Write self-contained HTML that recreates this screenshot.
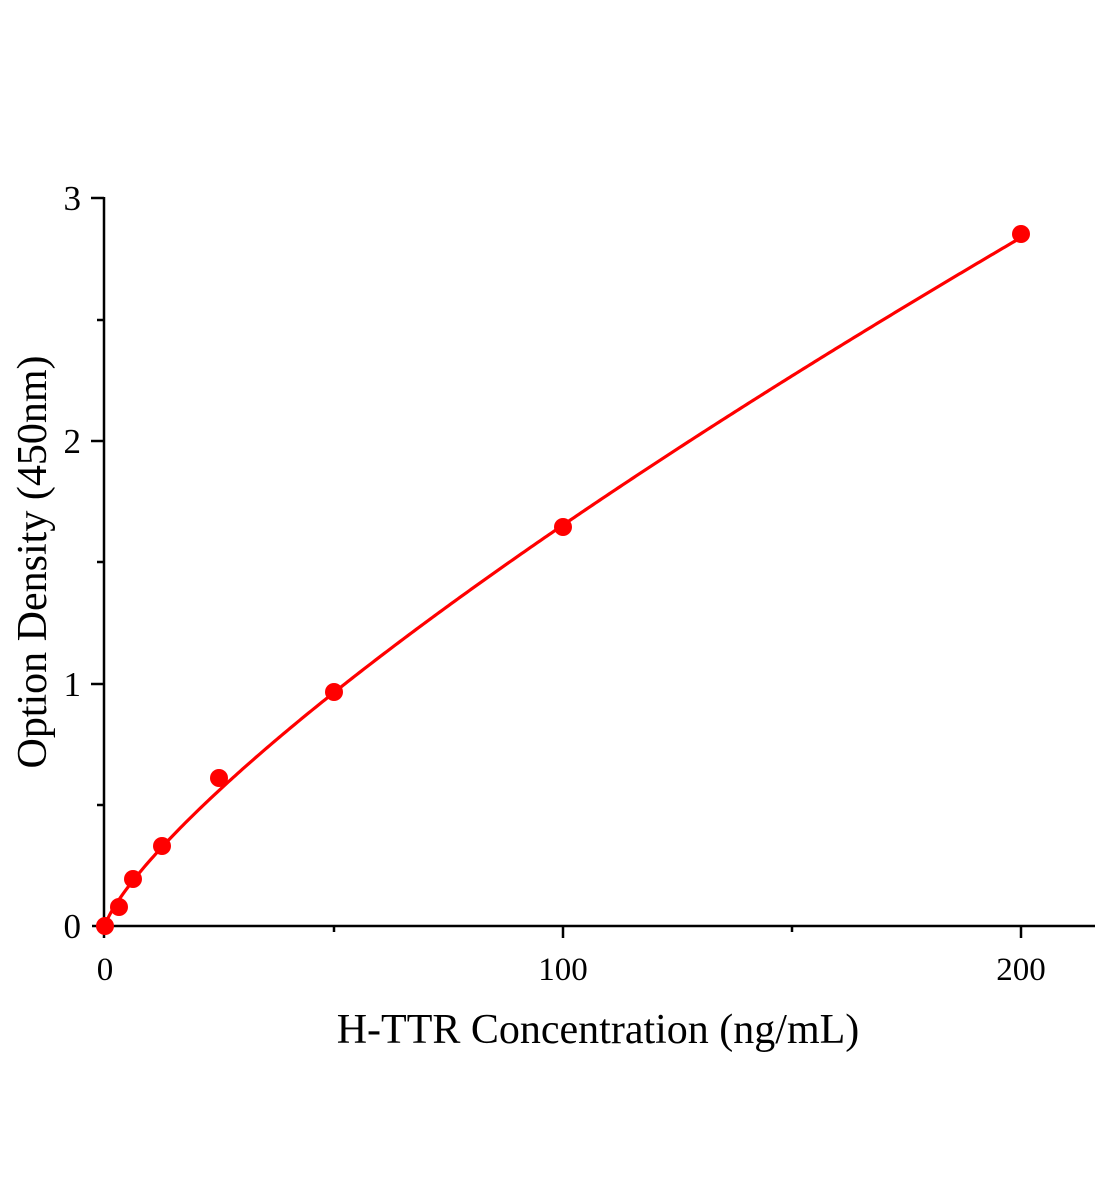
<!DOCTYPE html>
<html><head><meta charset="utf-8"><style>
html,body{margin:0;padding:0;background:#fff;}
svg{display:block;}
text{font-family:"Liberation Serif",serif;fill:#000;}
</style></head><body>
<svg id="s" width="1104" height="1200" viewBox="0 0 1104 1200" xmlns="http://www.w3.org/2000/svg">
<g stroke="#000" stroke-width="2.5" fill="none">
<line x1="104" y1="197" x2="104" y2="938"/>
<line x1="92" y1="926" x2="1095" y2="926"/>
<line x1="91" y1="198" x2="104" y2="198"/>
<line x1="91" y1="441" x2="104" y2="441"/>
<line x1="91" y1="684" x2="104" y2="684"/>
<line x1="97" y1="320" x2="104" y2="320"/>
<line x1="97" y1="562" x2="104" y2="562"/>
<line x1="97" y1="805" x2="104" y2="805"/>
<line x1="563" y1="926" x2="563" y2="938"/>
<line x1="1021" y1="926" x2="1021" y2="938"/>
<line x1="334" y1="926" x2="334" y2="932"/>
<line x1="792" y1="926" x2="792" y2="932"/>
</g>
<g font-size="35" text-anchor="end">
<text x="81" y="210">3</text>
<text x="81" y="453">2</text>
<text x="81" y="696">1</text>
<text x="81" y="938">0</text>
</g>
<g font-size="33" text-anchor="middle">
<text x="105" y="980">0</text>
<text x="563" y="980">100</text>
<text x="1021" y="980">200</text>
</g>
<text x="598" y="1043" font-size="42" text-anchor="middle">H-TTR Concentration (ng/mL)</text>
<text transform="translate(46,562) rotate(-90)" font-size="42" text-anchor="middle">Option Density (450nm)</text>
<path id="c" fill="none" stroke="#f00" stroke-width="3.2"/>
<g fill="#f00">
<circle cx="105" cy="926" r="9"/>
<circle cx="119" cy="907" r="9"/>
<circle cx="133" cy="879" r="9"/>
<circle cx="162" cy="846" r="9"/>
<circle cx="219" cy="778" r="9"/>
<circle cx="334" cy="692" r="9"/>
<circle cx="563" cy="527" r="9"/>
<circle cx="1021" cy="234" r="9"/>
</g>
</svg>
<script>
var d="M105 926";
for(var i=1;i<=400;i++){var x=i*0.5;var y=0.0455*Math.pow(x,0.78);
d+=" L"+(105+x*4.58).toFixed(2)+" "+(926-y*242.7).toFixed(2);}
document.getElementById("c").setAttribute("d",d);
</script>
</body></html>
